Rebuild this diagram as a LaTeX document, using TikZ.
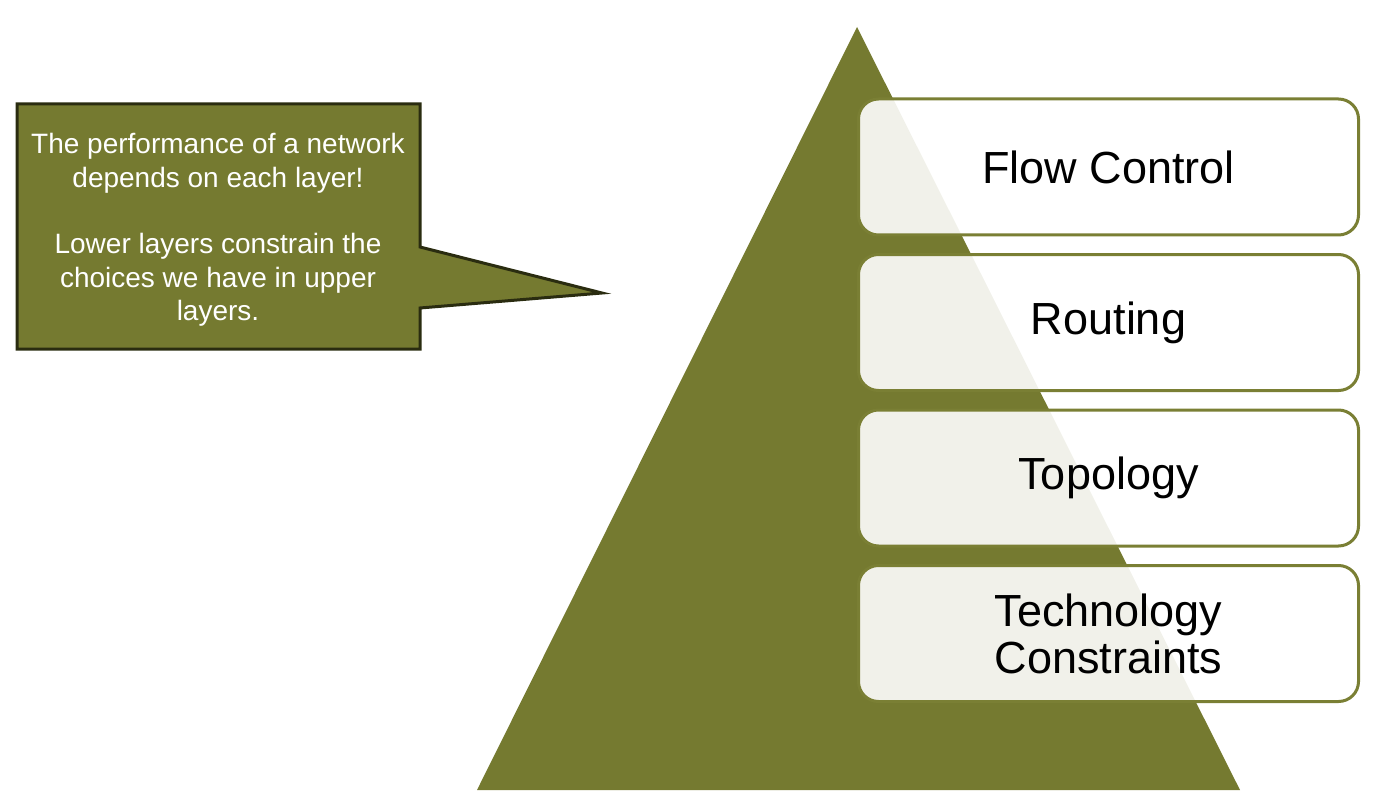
\documentclass[tikz,border=0pt]{standalone}
\usepackage{fontspec}
\setmainfont{Liberation Sans}
\usepackage{xcolor}
\usetikzlibrary{positioning}
\definecolor{olive}{RGB}{117,122,48}
\definecolor{darkolive}{RGB}{42,44,16}
\definecolor{boxline}{RGB}{122,127,52}

\begin{document}
\begin{tikzpicture}[
x=1pt, y=-1pt,
node distance=16.5pt,
layer/.style={draw=boxline, line width=3pt, rounded corners=20pt, fill=white, fill opacity=0.9, text opacity=1,
  minimum width=500pt, minimum height=136pt, align=center, font=\fontsize{45}{47}\selectfont},
note/.style={align=center, text=white, font=\fontsize{28}{33.5}\selectfont}
]
\useasboundingbox (0,0) rectangle (1380,802);
% pyramid
\coordinate (apex) at (857,27);
\coordinate (baseL) at (477,790);
\coordinate (baseR) at (1240,790);
\fill[olive] (apex) -- (baseR) -- (baseL) -- cycle;
% layers
\node[layer, anchor=north west] (flow) at (857,97.5) {Flow Control};
\node[layer, below=of flow] (rout) {Routing};
\node[layer, below=of rout] (topo) {Topology};
\node[layer, below=of topo] (tech) {Technology\\Constraints};
% callout
\draw[fill=olive, draw=darkolive, line width=3pt, line join=miter]
  (17,104) -- (420,104) -- (420,247) -- (602,293) -- (420,308) -- (420,349) -- (17,349) -- cycle;
\node[note] (msg) at (218,230) {The performance of a network\\depends on each layer!\\[33pt]Lower layers constrain the\\choices we have in upper\\layers.};
\end{tikzpicture}
\end{document}
